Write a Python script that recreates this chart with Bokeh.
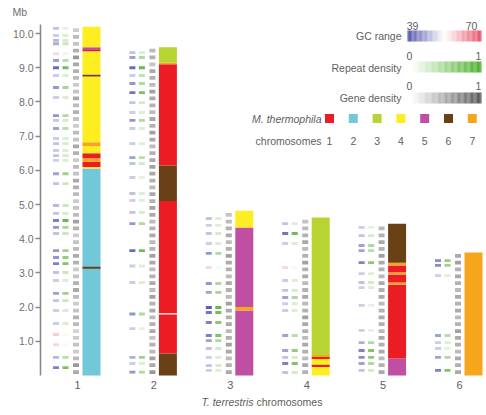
import numpy as np
from bokeh.plotting import figure
from bokeh.models import Range1d, FixedTicker, NumeralTickFormatter, ColumnDataSource
from bokeh.transform import linear_cmap
from bokeh.core.properties import value
from bokeh.embed import file_html
from bokeh.resources import INLINE

# ---------------- data ----------------
chromosomes = ["1", "2", "3", "4", "5", "6"]
chrom_length = [10.2, 9.6, 4.82, 4.62, 4.44, 3.6]

mt_chromosomes = ["1", "2", "3", "4", "5", "6", "7"]
mt_colors = ["#ec1c24", "#72c8d9", "#b7d433", "#fdee22", "#bf4fa3", "#6a4117", "#f6a61d"]

# synteny blocks: (start Mb, end Mb, M. thermophila chromosome)
blocks_chr1 = [(0.0, 6.05, 2), (3.12, 3.18, 6), (6.05, 6.1, 4), (6.1, 6.25, 1), (6.25, 6.35, 7),
               (6.35, 6.5, 1), (6.5, 6.7, 4), (6.7, 6.82, 7), (6.82, 8.74, 4), (8.74, 8.8, 6),
               (8.8, 9.48, 4), (9.48, 9.52, 1), (9.52, 9.6, 5), (9.6, 10.2, 4)]
blocks_chr2 = [(0.0, 0.64, 6), (0.64, 1.78, 1), (1.82, 5.1, 1), (5.1, 6.14, 6), (6.14, 9.1, 1),
               (9.1, 9.15, 7), (9.15, 9.6, 3)]
blocks_chr3 = [(0.0, 1.9, 5), (1.9, 2.0, 7), (2.0, 4.33, 5), (4.33, 4.82, 4)]
blocks_chr4 = [(0.0, 0.25, 4), (0.25, 0.32, 1), (0.32, 0.48, 4), (0.48, 0.54, 1), (0.54, 0.6, 7),
               (0.6, 4.62, 3)]
blocks_chr5 = [(0.0, 0.5, 5), (0.5, 2.65, 1), (2.65, 2.72, 7), (2.72, 2.95, 1), (2.95, 3.02, 7),
               (3.02, 3.22, 1), (3.22, 3.3, 7), (3.3, 4.44, 6)]
blocks_chr6 = [(0.0, 3.6, 7)]

# GC content (%) and repeat density marks
chr1_mark_mb = [10.15, 9.94, 9.8, 9.7, 9.41, 9.21, 9.0, 8.77, 8.42, 8.13, 7.6, 7.46, 7.22, 6.93, 6.78,
                6.58, 6.43, 6.29, 5.9, 5.61, 4.97, 4.74, 4.53, 4.33, 4.15, 3.65, 3.45, 3.27, 3.01, 2.78,
                2.4, 2.19, 1.9, 1.52, 1.2, 0.9, 0.53, 0.23]
chr1_mark_gc = [49, 50, 48, 47, 58, 46, 41, 50, 45, 50, 45, 49, 46, 50, 49, 50, 49, 50, 46, 49,
                48, 49, 43, 45, 49, 45, 45, 43, 49, 50, 46, 49, 50, 50, 59, 58, 48, 43]
chr1_mark_rep = [0.15, 0.2, 0.25, 0.3, 0.1, 0.4, 0.8, 0.2, 0.5, 0.2, 0.45, 0.25, 0.4, 0.2, 0.25,
                 0.2, 0.25, 0.2, 0.55, 0.3, 0.3, 0.25, 0.85, 0.5, 0.3, 0.55, 0.6, 0.7, 0.3, 0.2,
                 0.55, 0.3, 0.2, 0.2, 0.05, 0.05, 0.4, 0.75]
chr2_mark_mb = [9.44, 9.3, 9.0, 8.77, 8.54, 8.27, 7.98, 7.69, 7.46, 7.22, 6.78, 6.37, 6.2, 5.79, 5.32,
                5.12, 4.77, 4.44, 3.65, 3.2, 2.72, 1.8, 1.37, 0.53, 0.35, 0.1]
chr2_mark_gc = [49, 46, 41, 50, 45, 42, 49, 50, 45, 50, 50, 46, 49, 50, 49, 50, 49, 45, 41, 50,
                50, 45, 50, 47, 50, 45]
chr2_mark_rep = [0.2, 0.45, 0.85, 0.35, 0.45, 0.75, 0.25, 0.2, 0.45, 0.2, 0.2, 0.4, 0.25, 0.15, 0.2,
                 0.2, 0.25, 0.45, 0.8, 0.2, 0.2, 0.45, 0.15, 0.55, 0.2, 0.45]
chr3_mark_mb = [4.59, 4.39, 4.15, 3.86, 3.57, 3.16, 2.69, 2.43, 1.99, 1.84, 1.55, 1.17, 1.02, 0.79,
                0.53, 0.29, 0.15]
chr3_mark_gc = [49, 50, 49, 50, 45, 58, 45, 46, 40, 42, 43, 43, 46, 49, 50, 49, 50]
chr3_mark_rep = [0.2, 0.2, 0.25, 0.2, 0.45, 0.05, 0.45, 0.5, 0.85, 0.8, 0.65, 0.7, 0.45, 0.25, 0.2,
                 0.25, 0.2]
chr4_mark_mb = [4.44, 4.15, 3.86, 3.16, 2.78, 2.49, 2.28, 2.1, 1.9, 1.17, 0.73, 0.53, 0.35, 0.09]
chr4_mark_gc = [49, 42, 50, 58, 50, 49, 46, 50, 50, 46, 46, 49, 43, 49]
chr4_mark_rep = [0.2, 0.8, 0.2, 0.05, 0.2, 0.25, 0.45, 0.2, 0.2, 0.4, 0.6, 0.25, 0.7, 0.25]
chr5_mark_mb = [4.33, 4.09, 3.8, 3.65, 3.3, 2.98, 2.72, 2.57, 2.05, 1.32, 0.96, 0.73, 0.53, 0.35, 0.15]
chr5_mark_gc = [50, 49, 46, 46, 43, 50, 49, 50, 50, 50, 47, 43, 44, 46, 49]
chr5_mark_rep = [0.15, 0.25, 0.45, 0.4, 0.65, 0.2, 0.25, 0.2, 0.15, 0.15, 0.45, 0.7, 0.65, 0.45, 0.25]
chr6_mark_mb = [3.36, 3.22, 2.92, 1.17, 0.96, 0.79, 0.53, 0.15]
chr6_mark_gc = [44, 44, 50, 46, 50, 50, 46, 43]
chr6_mark_rep = [0.6, 0.55, 0.2, 0.4, 0.2, 0.15, 0.45, 0.7]

# gene density per 0.2 Mb bin (from 0 Mb upwards)
gene_bin_mb = 0.2
chr1_gene = [0.5, 0.6, 0.4, 0.3, 0.35, 0.3, 0.25, 0.4, 0.45, 0.35, 0.3, 0.4, 0.5, 0.45, 0.35, 0.3, 0.45,
             0.5, 0.4, 0.35, 0.3, 0.45, 0.55, 0.4, 0.35, 0.3, 0.4, 0.45, 0.5, 0.35, 0.4, 0.3, 0.45, 0.5,
             0.35, 0.4, 0.3, 0.35, 0.45, 0.4, 0.5, 0.35, 0.3, 0.4, 0.45, 0.5, 0.6, 0.45, 0.35, 0.4, 0.3]
chr2_gene = [0.6, 0.5, 0.55, 0.4, 0.45, 0.35, 0.5, 0.45, 0.4, 0.5, 0.45, 0.55, 0.4, 0.5, 0.45, 0.4,
             0.5, 0.55, 0.45, 0.4, 0.5, 0.45, 0.4, 0.5, 0.55, 0.45, 0.5, 0.4, 0.45, 0.5, 0.55, 0.5,
             0.45, 0.4, 0.5, 0.55, 0.45, 0.5, 0.4, 0.45, 0.5, 0.55, 0.4, 0.45, 0.5, 0.35, 0.45, 0.4]
chr3_gene = [0.5, 0.45, 0.4, 0.5, 0.55, 0.45, 0.4, 0.5, 0.45, 0.5, 0.55, 0.4, 0.45, 0.5, 0.4, 0.45,
             0.5, 0.55, 0.45, 0.4, 0.5, 0.45, 0.4, 0.35]
chr4_gene = [0.45, 0.5, 0.4, 0.45, 0.5, 0.4, 0.45, 0.5, 0.55, 0.45, 0.4, 0.5, 0.45, 0.4, 0.5, 0.45,
             0.55, 0.45, 0.4, 0.5, 0.45, 0.4, 0.35]
chr5_gene = [0.5, 0.45, 0.4, 0.5, 0.45, 0.5, 0.4, 0.45, 0.5, 0.45, 0.4, 0.5, 0.45, 0.5, 0.4, 0.45,
             0.5, 0.55, 0.45, 0.5, 0.45, 0.4]
chr6_gene = [0.5, 0.45, 0.5, 0.4, 0.45, 0.5, 0.55, 0.45, 0.4, 0.5, 0.45, 0.5, 0.4, 0.45, 0.5, 0.45,
             0.55, 0.5]

gc_range = [39, 70]
density_range = [0, 1]

# ---------------- layout helpers ----------------
PX_X = 76.4   # px per chromosome slot
PX_Y = 34.2   # px per Mb
TOP = 18      # canvas px reserved above the frame (for the "Mb" title)
LEFT = 40     # canvas px reserved for the y axis
W, H = 486, 415
def px_x(px):  # canvas px -> data x
    return 1 + (px - 91) / PX_X
def px_y(py):
    return (375 - py) / PX_Y

def ramp(c0, c1, n):
    a = np.array([int(c0[i:i + 2], 16) for i in (1, 3, 5)], float)
    b = np.array([int(c1[i:i + 2], 16) for i in (1, 3, 5)], float)
    out = []
    for t in np.linspace(0, 1, n):
        c = a + (b - a) * t
        out.append("#%02x%02x%02x" % tuple(int(round(v)) for v in c))
    return out

gc_pal = ramp("#5454ae", "#ffffff", 128) + ramp("#ffffff", "#e8506a", 128)
rep_pal = ramp("#ffffff", "#4aae28", 256)
gene_pal = ramp("#ffffff", "#555555", 256)

blocks = [blocks_chr1, blocks_chr2, blocks_chr3, blocks_chr4, blocks_chr5, blocks_chr6]
marks_mb = [chr1_mark_mb, chr2_mark_mb, chr3_mark_mb, chr4_mark_mb, chr5_mark_mb, chr6_mark_mb]
marks_gc = [chr1_mark_gc, chr2_mark_gc, chr3_mark_gc, chr4_mark_gc, chr5_mark_gc, chr6_mark_gc]
marks_rep = [chr1_mark_rep, chr2_mark_rep, chr3_mark_rep, chr4_mark_rep, chr5_mark_rep, chr6_mark_rep]
genes = [chr1_gene, chr2_gene, chr3_gene, chr4_gene, chr5_gene, chr6_gene]

BAR_W = 18 / PX_X
GC_OFF, REP_OFF, GENE_OFF = -35.5 / PX_X, -26 / PX_X, -15.5 / PX_X
TRK_W = 6 / PX_X

# ---------------- figure ----------------
p = figure(width=W, height=H, output_backend="svg", toolbar_location=None,
           x_range=Range1d(px_x(LEFT), px_x(W)), y_range=Range1d(px_y(H), px_y(TOP)),
           x_axis_location=None, min_border_left=LEFT, min_border_right=0,
           min_border_top=TOP, min_border_bottom=0, title="Mb")
p.title.align = "left"
p.title.offset = -28
p.title.standoff = 1
p.title.vertical_align = "bottom"
p.title.text_font = "Liberation Sans"
p.title.text_font_size = "10.5px"
p.title.text_font_style = "normal"
p.title.text_color = "#707070"

p.xgrid.visible = False
p.ygrid.visible = False
p.outline_line_color = None
p.background_fill_color = "white"
p.border_fill_color = "white"

ax = p.yaxis[0]
ax.ticker = FixedTicker(ticks=[1, 2, 3, 4, 5, 6, 7, 8, 9, 10])
ax.formatter = NumeralTickFormatter(format="0.0")
ax.bounds = (0, 10.25)
ax.axis_line_color = "#8a8a8a"
ax.axis_line_width = 1.6
ax.major_tick_line_color = "#8a8a8a"
ax.major_tick_line_width = 1.4
ax.major_tick_out = 5
ax.major_tick_in = 0
ax.minor_tick_line_color = None
ax.major_label_standoff = 2
ax.major_label_text_font = "Liberation Sans"
ax.major_label_text_font_size = "10.5px"
ax.major_label_text_color = "#707070"

FONT = value("Liberation Sans")
TXT = "#606060"

# synteny blocks
bl, br, bb, bt, bc = [], [], [], [], []
for i, blk in enumerate(blocks):
    cx = i + 1
    for s, e, m in blk:
        bl.append(cx - BAR_W / 2); br.append(cx + BAR_W / 2)
        bb.append(s); bt.append(e); bc.append(mt_colors[m - 1])
p.quad(left=bl, right=br, bottom=bb, top=bt, fill_color=bc, line_color=None)

# GC / repeat marks
mx_gc, mx_rep, my, mgc, mrep = [], [], [], [], []
for i in range(6):
    for y, g, r in zip(marks_mb[i], marks_gc[i], marks_rep[i]):
        mx_gc.append(i + 1 + GC_OFF); mx_rep.append(i + 1 + REP_OFF)
        my.append(y); mgc.append(g); mrep.append(r)
msrc = ColumnDataSource(dict(xg=mx_gc, xr=mx_rep, y=my, gc=mgc, rep=mrep))
p.rect(x="xg", y="y", width=TRK_W, height=0.085, source=msrc, line_color=None,
       fill_color=linear_cmap("gc", gc_pal, gc_range[0], gc_range[1]))
p.rect(x="xr", y="y", width=TRK_W, height=0.085, source=msrc, line_color=None,
       fill_color=linear_cmap("rep", rep_pal, density_range[0], density_range[1]))

# gene density
gx, gy, gv = [], [], []
for i in range(6):
    for k, v in enumerate(genes[i]):
        gx.append(i + 1 + GENE_OFF); gy.append(k * gene_bin_mb + gene_bin_mb / 2); gv.append(v)
gsrc = ColumnDataSource(dict(x=gx, y=gy, v=gv))
p.rect(x="x", y="y", width=TRK_W, height=0.11, source=gsrc, line_color=None,
       fill_color=linear_cmap("v", gene_pal, density_range[0], density_range[1]))

# chromosome numbers + axis title
p.text(x=[i + 1 - 14 / PX_X for i in range(6)], y=[px_y(384)] * 6, text=chromosomes,
       text_font=FONT, text_font_size=value("11px"), text_color=TXT,
       text_align="center", text_baseline="middle")
p.text(x=[px_x(253)], y=[px_y(401)], text=["T. terrestris"], text_font=FONT,
       text_font_style="italic", text_font_size=value("10.5px"), text_color=TXT,
       text_align="right", text_baseline="middle")
p.text(x=[px_x(256)], y=[px_y(401)], text=["chromosomes"], text_font=FONT,
       text_font_size=value("10.5px"), text_color=TXT, text_align="left", text_baseline="middle")

# ---------------- legend ----------------
LX = 401
def legend_text(x, y, t, align="right", style="normal"):
    p.text(x=[px_x(x)], y=[px_y(y)], text=[t], text_font=FONT, text_font_size=value("10.5px"),
           text_color=TXT, text_align=align, text_baseline="middle", text_font_style=style)

def ramp_bar(x0, x1, y0, y1, pal, lo, hi):
    n = 60
    vals = np.linspace(lo, hi, n)
    xs = np.linspace(px_x(x0), px_x(x1), n + 1)
    src = ColumnDataSource(dict(l=xs[:-1], r=xs[1:], v=vals))
    p.quad(left="l", right="r", bottom=px_y(y1), top=px_y(y0), source=src, line_color=None,
           fill_color=linear_cmap("v", pal, lo, hi))

legend_text(LX, 35, "GC range")
ramp_bar(407, 481, 30, 41, gc_pal, gc_range[0], gc_range[1])
legend_text(412, 25.5, str(gc_range[0]), "center")
legend_text(471, 25.5, str(gc_range[1]), "center")

legend_text(LX, 67, "Repeat density")
ramp_bar(410, 481, 61, 72, rep_pal, density_range[0], density_range[1])
legend_text(409, 55, str(density_range[0]), "center")
legend_text(478, 55, str(density_range[1]), "center")

legend_text(LX, 97, "Gene density")
ramp_bar(410, 481, 92, 103, gene_pal, density_range[0], density_range[1])
legend_text(409, 85, str(density_range[0]), "center")
legend_text(478, 85, str(density_range[1]), "center")

legend_text(321, 118, "M. thermophila", style="italic")
legend_text(321, 140, "chromosomes")
sq_x = [px_x(329 + 23.8 * k) for k in range(7)]
p.rect(x=sq_x, y=[px_y(118)] * 7, width=9 / PX_X, height=9 / PX_Y, fill_color=mt_colors,
       line_color=None)
p.text(x=sq_x, y=[px_y(140)] * 7, text=mt_chromosomes, text_font=FONT,
       text_font_size=value("10.5px"), text_color=TXT, text_align="center", text_baseline="middle")

open("out.html", "w").write(file_html(p, INLINE))
